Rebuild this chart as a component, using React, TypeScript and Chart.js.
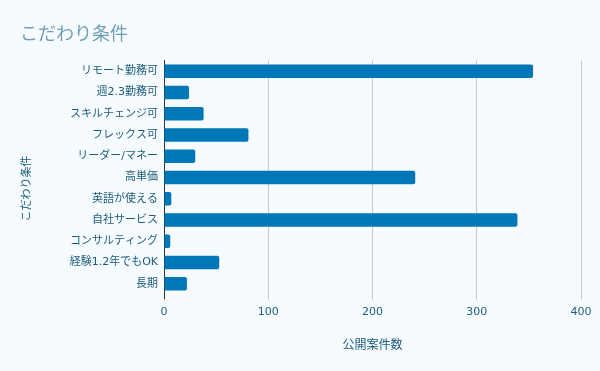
import React, { useEffect, useRef } from "react";
import { Chart, registerables } from "chart.js";

Chart.register(...registerables);

const categories = [
  "リモート勤務可",
  "週2.3勤務可",
  "スキルチェンジ可",
  "フレックス可",
  "リーダー/マネー",
  "高単価",
  "英語が使える",
  "自社サービス",
  "コンサルティング",
  "経験1.2年でもOK",
  "長期",
];
const values = [354, 24, 38, 81, 30, 241, 7, 339, 6, 53, 22];
const xTicks = [0, 100, 200, 300, 400];
const yTitle = "こだわり条件";

const FONT = "'DejaVu Sans', 'Noto Sans CJK JP', sans-serif";
const BG = "#f5fbff";
const TEXT = "#1d5c7a";

export default function App() {
  const ref = useRef<HTMLCanvasElement | null>(null);
  useEffect(() => {
    document.body.style.margin = "0";
    document.body.style.background = BG;
    const bgPlugin = {
      id: "bg",
      beforeDraw(chart: any) {
        const { ctx } = chart;
        ctx.save();
        ctx.fillStyle = BG;
        ctx.fillRect(0, 0, chart.width, chart.height);
        ctx.restore();
      },
      afterDraw(chart: any) {
        const { ctx } = chart;
        const yScale = chart.scales.y;
        ctx.save();
        ctx.translate(yScale.left + 7, chart.height / 2 + 3);
        ctx.rotate(-Math.PI / 2);
        ctx.fillStyle = TEXT;
        ctx.font = `11px ${FONT}`;
        ctx.textAlign = "center";
        ctx.textBaseline = "middle";
        ctx.fillText(yTitle, 0, 0);
        ctx.restore();
      },
    };
    const chart = new Chart(ref.current!, {
      type: "bar",
      data: {
        labels: categories,
        datasets: [
          {
            data: values,
            backgroundColor: "#0077b6",
            borderRadius: 2,
            borderSkipped: "start",
            barPercentage: 0.8,
            categoryPercentage: 0.8,
          },
        ],
      },
      options: {
        indexAxis: "y",
        animation: false,
        responsive: false,
        layout: { padding: { left: 20, right: 19, top: 25, bottom: 18 } },
        plugins: {
          legend: { display: false },
          tooltip: { enabled: false },
          title: {
            display: true,
            text: "こだわり条件",
            align: "start",
            color: "#6f9fb4",
            font: { family: FONT, size: 18, weight: "normal" },
            padding: { top: 0, bottom: 14 },
          },
        },
        scales: {
          x: {
            min: 0,
            max: 400,
            afterBuildTicks(scale: any) {
              scale.ticks = xTicks.map((v) => ({ value: v }));
            },
            grid: {
              color: (c: any) => (c.tick && c.tick.value === 0 ? "#333333" : "#c8c8c8"),
              drawTicks: true,
              tickLength: 5,
            },
            border: { display: false },
            ticks: {
              color: TEXT,
              font: { family: FONT, size: 11 },
              padding: 6,
            },
            title: {
              display: true,
              text: "公開案件数",
              color: TEXT,
              font: { family: FONT, size: 12 },
              padding: { top: 14, bottom: 0 },
            },
          },
          y: {
            afterFit(scale: any) {
              scale.width = 144;
            },
            grid: { display: false, drawTicks: false },
            border: { display: true, color: "#333333" },
            ticks: {
              color: TEXT,
              font: { family: FONT, size: 11 },
              padding: 6,
            },
            title: { display: false },
          },
        },
      },
      plugins: [bgPlugin],
    } as any);
    return () => chart.destroy();
  }, []);
  return (
    <div style={{ width: 600, height: 371, background: BG }}>
      <canvas ref={ref} width={600} height={371} />
    </div>
  );
}
